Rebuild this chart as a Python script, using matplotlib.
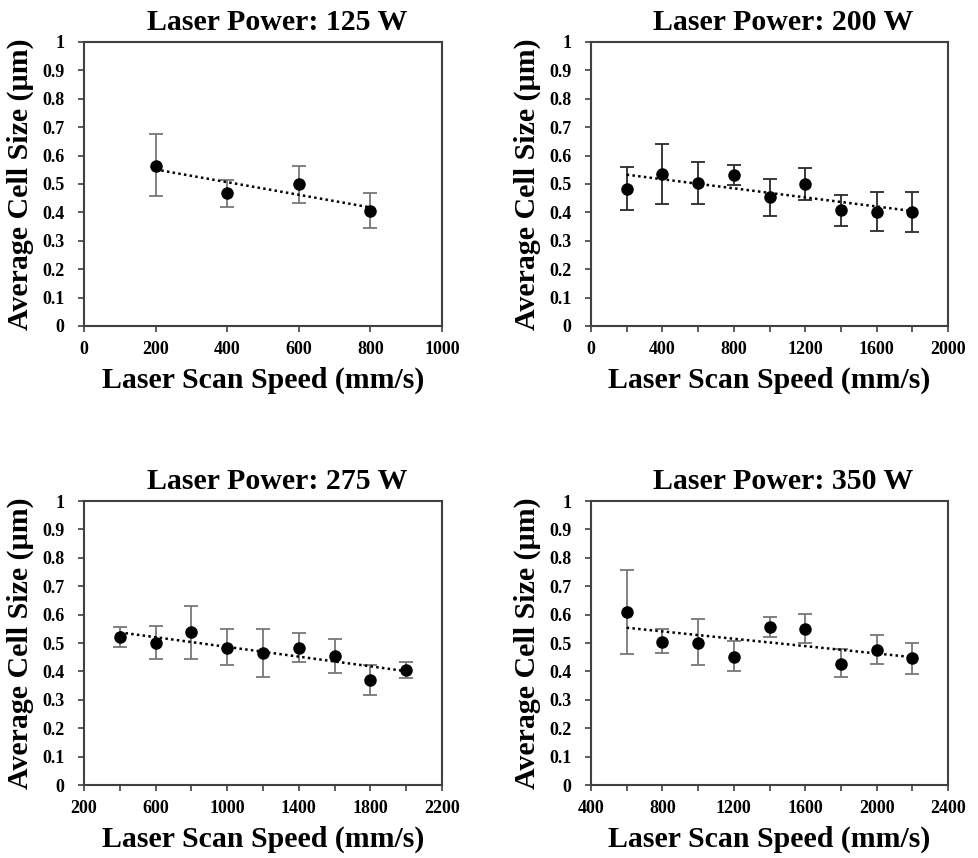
import numpy as np
import matplotlib
matplotlib.use("Agg")
import matplotlib.pyplot as plt
from matplotlib.ticker import MultipleLocator, FixedLocator

plt.rcParams['font.family'] = ['Liberation Serif', 'DejaVu Serif']
plt.rcParams['font.weight'] = 'bold'

# ---- data ----
titles = ["Laser Power: 125 W", "Laser Power: 200 W", "Laser Power: 275 W", "Laser Power: 350 W"]

speed_125 = [200, 400, 600, 800]
size_125 = [0.565, 0.467, 0.499, 0.406]
err_hi_125 = [0.110, 0.046, 0.066, 0.063]
err_lo_125 = [0.108, 0.047, 0.066, 0.061]

speed_200 = [200, 400, 600, 800, 1000, 1200, 1400, 1600, 1800]
size_200 = [0.484, 0.536, 0.504, 0.532, 0.453, 0.499, 0.408, 0.403, 0.400]
err_hi_200 = [0.076, 0.106, 0.073, 0.035, 0.065, 0.056, 0.054, 0.069, 0.072]
err_lo_200 = [0.076, 0.108, 0.076, 0.036, 0.065, 0.055, 0.055, 0.067, 0.070]

speed_275 = [400, 600, 800, 1000, 1200, 1400, 1600, 1800, 2000]
size_275 = [0.521, 0.500, 0.540, 0.484, 0.464, 0.484, 0.453, 0.371, 0.405]
err_hi_275 = [0.035, 0.059, 0.091, 0.064, 0.084, 0.050, 0.060, 0.053, 0.027]
err_lo_275 = [0.035, 0.055, 0.095, 0.060, 0.083, 0.051, 0.059, 0.053, 0.027]

speed_350 = [600, 800, 1000, 1200, 1400, 1600, 1800, 2000, 2200]
size_350 = [0.608, 0.504, 0.500, 0.450, 0.556, 0.551, 0.427, 0.476, 0.446]
err_hi_350 = [0.148, 0.045, 0.083, 0.056, 0.037, 0.050, 0.053, 0.051, 0.055]
err_lo_350 = [0.147, 0.038, 0.076, 0.049, 0.034, 0.051, 0.048, 0.050, 0.056]

x_limits = [(0, 1000), (0, 2000), (200, 2200), (400, 2400)]
x_major = [200, 400, 400, 400]
x_minor = [200, 200, 200, 200]
err_colors = ["#777777", "#2a2a2a", "#777777", "#777777"]

panels = [
    (speed_125, size_125, err_lo_125, err_hi_125),
    (speed_200, size_200, err_lo_200, err_hi_200),
    (speed_275, size_275, err_lo_275, err_hi_275),
    (speed_350, size_350, err_lo_350, err_hi_350),
]

W, H = 979, 858
fig = plt.figure(figsize=(W / 100, H / 100), dpi=100)
fig.patch.set_facecolor("white")

# axes boxes in pixels: left, top, right, bottom
boxes = [(84, 42, 442, 326), (591, 42, 948, 326), (84, 501, 442, 785), (591, 501, 948, 785)]

def yfmt(v, p):
    if abs(v) < 1e-9:
        return "0"
    if abs(v - 1) < 1e-9:
        return "1"
    return f"{v:.1f}"

for i, (box, (xs, ys, elo, ehi)) in enumerate(zip(boxes, panels)):
    l, t, r, b = box
    ax = fig.add_axes([l / W, 1 - b / H, (r - l) / W, (b - t) / H])
    xs = np.array(xs, dtype=float)
    ys = np.array(ys, dtype=float)
    ax.errorbar(xs, ys, yerr=[elo, ehi], fmt='none', ecolor=err_colors[i],
                elinewidth=1.3, capsize=5, capthick=1.3, zorder=2)
    coef = np.polyfit(xs, ys, 1)
    xl = np.array([xs.min(), xs.max()])
    ax.plot(xl, np.polyval(coef, xl), color='black', lw=1.8,
            linestyle=(0, (1, 1.3)), dash_capstyle='butt', zorder=3)
    ax.plot(xs, ys, 'o', color='black', markersize=8, zorder=4)

    x0, x1 = x_limits[i]
    ax.set_xlim(x0, x1)
    ax.set_ylim(0, 1)
    ax.xaxis.set_major_locator(FixedLocator(np.arange(x0, x1 + 1, x_major[i])))
    ax.xaxis.set_minor_locator(FixedLocator(np.arange(x0, x1 + 1, x_minor[i])))
    ax.yaxis.set_major_locator(MultipleLocator(0.1))
    ax.yaxis.set_major_formatter(plt.FuncFormatter(yfmt))
    ax.tick_params(axis='both', which='both', direction='out', color='#404040', width=1.2)
    ax.tick_params(axis='both', which='major', length=4, labelsize=13)
    ax.tick_params(axis='x', which='major', pad=7)
    ax.tick_params(axis='x', which='minor', length=4)
    ax.tick_params(axis='y', which='major', pad=10)
    for lab in ax.get_xticklabels() + ax.get_yticklabels():
        lab.set_fontweight('bold')
    for s in ax.spines.values():
        s.set_color('#404040')
        s.set_linewidth(1.5)
    ax.set_title(titles[i], fontsize=21.5, fontweight='bold', pad=9, x=0.539)
    ax.set_xlabel("Laser Scan Speed (mm/s)", fontsize=21.5, fontweight='bold', labelpad=6)
    ax.set_ylabel("Average Cell Size (µm)", fontsize=21.5, fontweight='bold', labelpad=6)

fig.savefig("out.png", dpi=100, facecolor='white')
